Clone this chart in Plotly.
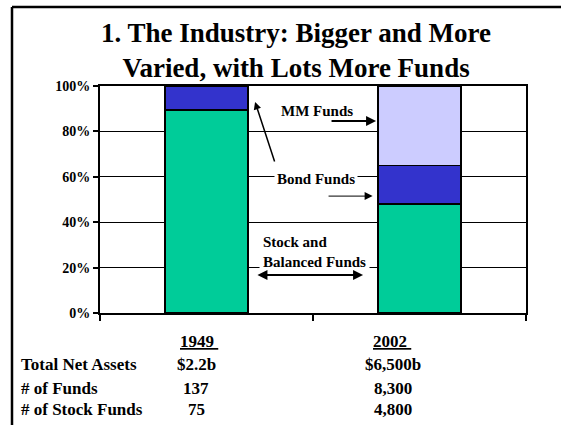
import plotly.graph_objects as go

# data
years = ["1949", "2002"]
stock_pct = [89.5, 48.0]
bond_pct = [10.5, 17.0]
mm_pct = [0.0, 35.0]

y_ticks = [0, 20, 40, 60, 80, 100]
y_tick_labels = ["0%", "20%", "40%", "60%", "80%", "100%"]

row_labels = ["Total Net Assets", "# of Funds", "# of Stock Funds"]
vals_1949 = ["$2.2b", "137", "75"]
vals_2002 = ["$6,500b", "8,300", "4,800"]

FONT = "Liberation Serif"
W, H = 561, 425
L, R, T, B = 100, 35, 86, 112


def px_x(p):
    return (p - L) / (W - L - R)


def px_y(p):
    return (H - B - p) / (H - T - B)


def label(text, x, y, size, xanchor="center"):
    # paper-positioned text, given in page pixels
    return dict(text=text, xref="paper", yref="paper", x=px_x(x), y=px_y(y),
                xanchor=xanchor, yanchor="middle", showarrow=False,
                font=dict(size=size, color="black", family=FONT))


fig = go.Figure()
for name, vals, col in [("Stock and Balanced Funds", stock_pct, "#00CC99"),
                        ("Bond Funds", bond_pct, "#3333CC"),
                        ("MM Funds", mm_pct, "#CCCCFF")]:
    fig.add_trace(go.Bar(
        x=years, y=vals, name=name, width=0.39,
        marker=dict(color=col, line=dict(color="black", width=1.5)),
        showlegend=False,
    ))

annotations = [
    label("<b>1. The Industry: Bigger and More<br>Varied, with Lots More Funds</b>", 296, 51, 27),
    # labels inside the plot
    dict(text="<b>MM Funds</b>", xref="x", yref="y", x=0.519, y=89.0, showarrow=False,
         font=dict(size=15, color="black", family=FONT)),
    dict(text="<b>Bond Funds</b>", xref="x", yref="y", x=0.514, y=59.0, showarrow=False,
         font=dict(size=15, color="black", family=FONT), bgcolor="white", borderpad=2),
    dict(text="<b>Stock and<br>Balanced Funds</b>", xref="x", yref="y", x=0.245, y=27.0,
         showarrow=False, xanchor="left", align="left",
         font=dict(size=15, color="black", family=FONT), bgcolor="white", borderpad=3),
    # arrows
    dict(x=0.796, y=84.6, ax=0.58, ay=84.6, xref="x", yref="y", axref="x", ayref="y",
         text="", showarrow=True, arrowhead=2, arrowsize=1, arrowwidth=2, arrowcolor="black"),
    dict(x=0.228, y=93.0, ax=0.322, ay=66.1, xref="x", yref="y", axref="x", ayref="y",
         text="", showarrow=True, arrowhead=2, arrowsize=1, arrowwidth=1.5, arrowcolor="black"),
    dict(x=0.78, y=51.5, ax=0.566, ay=51.5, xref="x", yref="y", axref="x", ayref="y",
         text="", showarrow=True, arrowhead=2, arrowsize=1.6, arrowwidth=1, arrowcolor="black"),
    dict(x=0.735, y=16.7, ax=0.232, ay=16.7, xref="x", yref="y", axref="x", ayref="y",
         text="", showarrow=True, arrowhead=2, startarrowhead=2, arrowside="end+start",
         arrowsize=1, arrowwidth=2, arrowcolor="black"),
    # table under the chart
    label("<b><u>1949 </u></b>", 199, 341, 17),
    label("<b><u>2002 </u></b>", 392, 341, 17),
]
row_y = [364, 388, 409]
for lab, v1, v2, py in zip(row_labels, vals_1949, vals_2002, row_y):
    annotations.append(label(f"<b>{lab}</b>", 19, py, 17, xanchor="left"))
    annotations.append(label(f"<b>{v1}</b>", 196, py, 17))
    annotations.append(label(f"<b>{v2}</b>", 393, py, 17))

shapes = [
    dict(type="line", xref="paper", yref="paper", x0=px_x(12), x1=px_x(570),
         y0=px_y(7), y1=px_y(7), line=dict(color="black", width=2.5)),
    dict(type="line", xref="paper", yref="paper", x0=px_x(12), x1=px_x(12),
         y0=px_y(7), y1=px_y(440), line=dict(color="black", width=2.5)),
]

fig.update_layout(
    barmode="stack",
    width=W, height=H,
    margin=dict(l=L, r=R, t=T, b=B),
    paper_bgcolor="white", plot_bgcolor="white",
    font=dict(family=FONT, color="black"),
    annotations=annotations,
    shapes=shapes,
    xaxis=dict(showticklabels=False, showline=True, linecolor="black", linewidth=2,
               mirror=True, ticks="outside", tickson="boundaries", ticklen=6,
               tickwidth=2, tickcolor="black", showgrid=False),
    yaxis=dict(range=[0, 100], tickmode="array", tickvals=y_ticks,
               ticktext=[f"<b>{t}</b>" for t in y_tick_labels],
               tickfont=dict(size=14, family=FONT, color="black"),
               showline=True, linecolor="black", linewidth=2, mirror=True,
               ticks="outside", ticklen=5, tickwidth=2, tickcolor="black",
               showgrid=True, gridcolor="black", gridwidth=1, zeroline=False),
)

fig.write_html("out.html", config={"displayModeBar": False},
               post_script="document.body.style.margin='0';")
